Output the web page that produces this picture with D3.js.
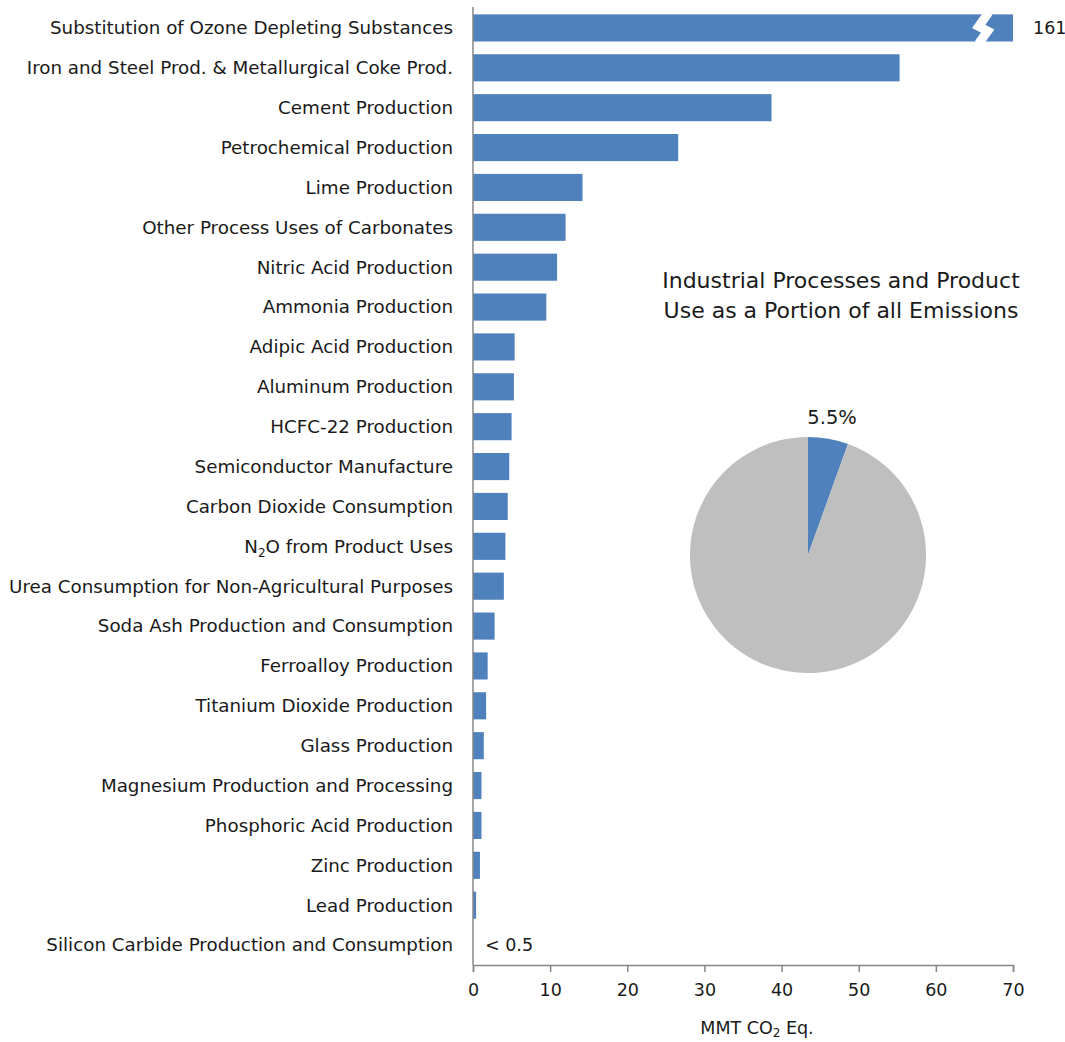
<!DOCTYPE html>
<html>
<head>
<meta charset="utf-8">
<script src="https://cdn.jsdelivr.net/npm/d3@7"></script>
<style>
  body { margin: 0; background: #fff; }
  svg { display: block; font-family: "DejaVu Sans", sans-serif; }
</style>
</head>
<body>
<svg id="chart" width="1065" height="1042"></svg>
<script>
// categories, top to bottom
var categories = [
  "Substitution of Ozone Depleting Substances",
  "Iron and Steel Prod. & Metallurgical Coke Prod.",
  "Cement Production",
  "Petrochemical Production",
  "Lime Production",
  "Other Process Uses of Carbonates",
  "Nitric Acid Production",
  "Ammonia Production",
  "Adipic Acid Production",
  "Aluminum Production",
  "HCFC-22 Production",
  "Semiconductor Manufacture",
  "Carbon Dioxide Consumption",
  "N2O from Product Uses",
  "Urea Consumption for Non-Agricultural Purposes",
  "Soda Ash Production and Consumption",
  "Ferroalloy Production",
  "Titanium Dioxide Production",
  "Glass Production",
  "Magnesium Production and Processing",
  "Phosphoric Acid Production",
  "Zinc Production",
  "Lead Production",
  "Silicon Carbide Production and Consumption"
];
// MMT CO2 Eq.
var values = [161, 55.3, 38.7, 26.6, 14.2, 12.0, 10.9, 9.5, 5.4, 5.3, 5.0, 4.7,
              4.5, 4.2, 4.0, 2.8, 1.9, 1.7, 1.4, 1.1, 1.1, 0.9, 0.4, 0];
var valueNotes = {"Substitution of Ozone Depleting Substances": "161",
                  "Silicon Carbide Production and Consumption": "< 0.5"};
var xTicks = [0, 10, 20, 30, 40, 50, 60, 70];
var axisMax = 70;
var breakAt = 66.2;

// pie: share of all emissions
var pieLabels = ["Industrial Processes and Product Use", "All other"];
var pieValues = [5.5, 94.5];
var pieTitle = ["Industrial Processes and Product", "Use as a Portion of all Emissions"];

var blue = "#4f81bd", grey = "#bfbfbf", axisCol = "#868686", textCol = "#1a1a1a";

var data = categories.map(function(c, i) { return {name: c, value: values[i]}; });

var svg = d3.select("#chart");

var x = d3.scaleLinear().domain([0, axisMax]).range([473, 1013]);
var y = d3.scaleBand().domain(categories).range([8, 965])
  .paddingInner(0.32).paddingOuter(0.16);

// bars (long bar gets clipped at axis max)
svg.append("g")
  .selectAll("rect")
  .data(data)
  .enter().append("rect")
    .attr("x", x(0))
    .attr("y", function(d) { return y(d.name); })
    .attr("width", function(d) { return x(Math.min(d.value, axisMax)) - x(0); })
    .attr("height", y.bandwidth())
    .attr("fill", blue);

// break mark on the clipped bar
var broken = data.filter(function(d) { return d.value > axisMax; });
svg.append("g")
  .selectAll("path")
  .data(broken)
  .enter().append("path")
    .attr("d", function(d) {
      var y0 = y(d.name) - 2, h = y.bandwidth() + 4, bx = x(breakAt);
      return "M" + (bx + 5) + "," + y0 +
             "L" + (bx - 5) + "," + (y0 + h * 0.45) +
             "L" + (bx + 4) + "," + (y0 + h * 0.6) +
             "L" + (bx - 5) + "," + (y0 + h);
    })
    .attr("fill", "none")
    .attr("stroke", "#fff")
    .attr("stroke-width", 9);

// value notes
svg.append("g")
  .selectAll("text")
  .data(data.filter(function(d) { return valueNotes[d.name]; }))
  .enter().append("text")
    .attr("x", function(d) { return d.value > axisMax ? x(axisMax) + 20 : x(0) + 12; })
    .attr("y", function(d) { return y(d.name) + y.bandwidth() / 2; })
    .attr("dy", "0.35em")
    .attr("font-size", 17.5)
    .attr("fill", textCol)
    .text(function(d) { return valueNotes[d.name]; });

// category labels
var labels = svg.append("g")
  .selectAll("text")
  .data(categories)
  .enter().append("text")
    .attr("x", 453)
    .attr("y", function(d) { return y(d) + y.bandwidth() / 2; })
    .attr("dy", "0.35em")
    .attr("text-anchor", "end")
    .attr("font-size", 18.3)
    .attr("fill", textCol);
labels.each(function(d) {
  var t = d3.select(this);
  if (d.indexOf("N2O") === 0) {
    t.append("tspan").text("N");
    t.append("tspan").attr("font-size", 12).attr("dy", 4).text("2");
    t.append("tspan").attr("dy", -4).text(d.slice(2));
  } else {
    t.text(d);
  }
});

// y axis line
svg.append("line")
  .attr("x1", x(0)).attr("x2", x(0))
  .attr("y1", y.range()[0] - 1).attr("y2", y.range()[1])
  .attr("stroke", axisCol).attr("stroke-width", 1.5);

// x axis
var xAxis = d3.axisBottom(x).tickValues(xTicks).tickSize(7).tickSizeOuter(7)
  .tickFormat(d3.format("d"));
var gx = svg.append("g")
  .attr("transform", "translate(0," + y.range()[1] + ")")
  .call(xAxis);
gx.select(".domain").attr("stroke", axisCol).attr("stroke-width", 1.5);
gx.selectAll(".tick line").attr("stroke", axisCol).attr("stroke-width", 1.5);
gx.selectAll(".tick text")
  .attr("font-family", "DejaVu Sans, sans-serif")
  .attr("font-size", 17.5)
  .attr("fill", textCol)
  .attr("y", 19);

var xt = svg.append("text")
  .attr("x", 757).attr("y", 1034)
  .attr("text-anchor", "middle")
  .attr("font-size", 17.5)
  .attr("fill", textCol);
xt.append("tspan").text("MMT CO");
xt.append("tspan").attr("font-size", 12).attr("dy", 3).text("2");
xt.append("tspan").attr("dy", -3).text(" Eq.");

// pie
var cx = 808, cy = 555, r = 118;
var pie = d3.pie().sort(null)(pieValues);
var arc = d3.arc().innerRadius(0).outerRadius(r);
var pieColors = [blue, grey];
svg.append("g")
  .attr("transform", "translate(" + cx + "," + cy + ")")
  .selectAll("path")
  .data(pie)
  .enter().append("path")
    .attr("d", arc)
    .attr("fill", function(d, i) { return pieColors[i]; });

// pie share label
var labelArc = d3.arc().innerRadius(r + 22).outerRadius(r + 22);
svg.append("text")
  .datum(pie[0])
  .attr("transform", function(d) {
    var c = labelArc.centroid(d);
    return "translate(" + (cx + c[0]) + "," + (cy + c[1]) + ")";
  })
  .attr("text-anchor", "middle")
  .attr("dy", "0.35em")
  .attr("font-size", 19.5)
  .attr("fill", textCol)
  .text(function(d) { return d3.format(".1f")(d.value) + "%"; });

svg.append("g")
  .selectAll("text")
  .data(pieTitle)
  .enter().append("text")
    .attr("x", 841)
    .attr("y", function(d, i) { return 288 + i * 30; })
    .attr("text-anchor", "middle")
    .attr("font-size", 22)
    .attr("fill", textCol)
    .text(function(d) { return d; });
</script>
</body>
</html>
